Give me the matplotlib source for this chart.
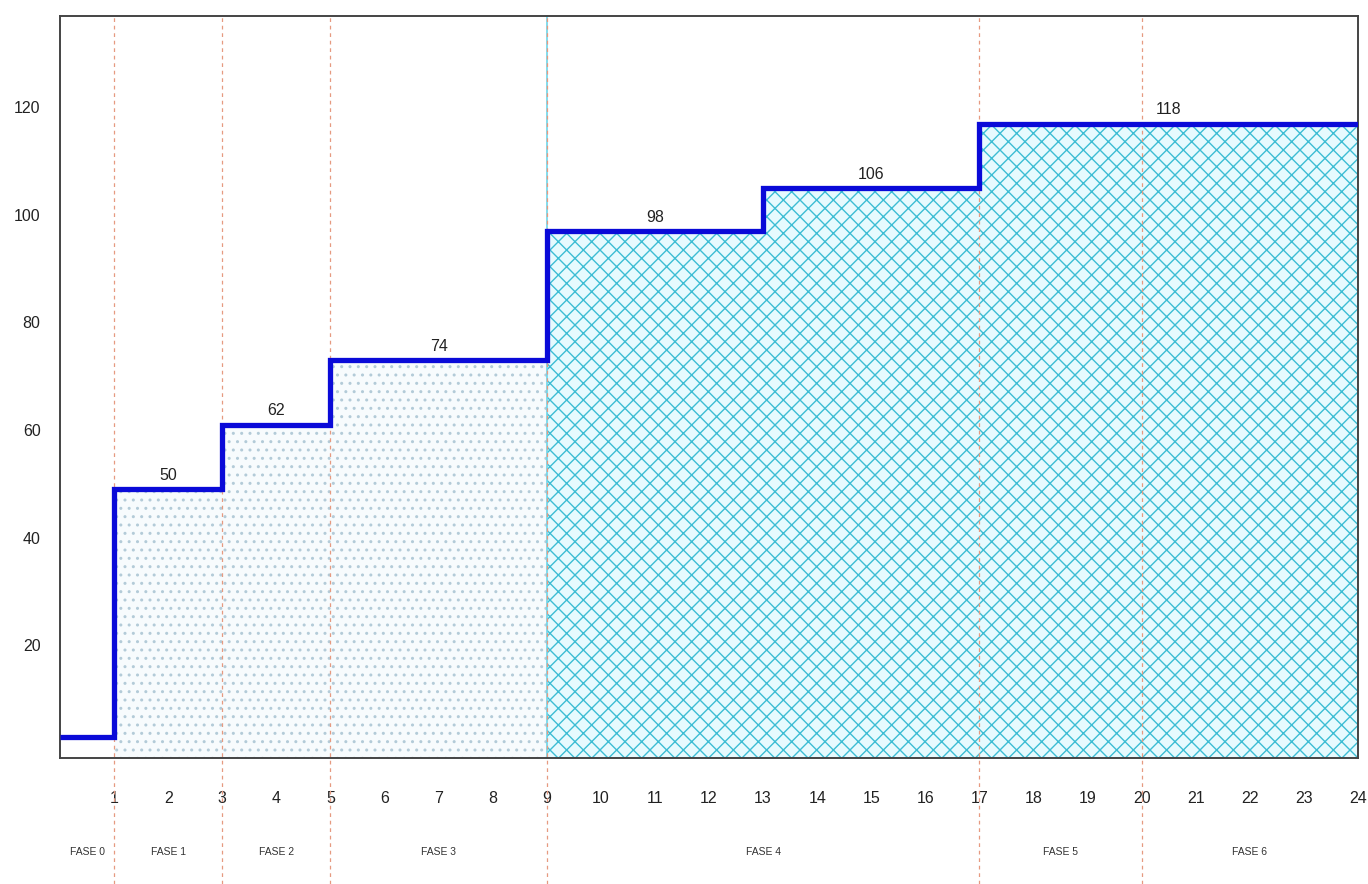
import matplotlib.pyplot as plt
import numpy as np

plt.rcParams["font.family"] = ["Liberation Sans", "DejaVu Sans"]

# phase boundaries (x) and step level for each phase
edges = [0, 1, 3, 5, 9, 13, 17, 24]
levels = [3, 49, 61, 73, 97, 105, 117]
level_labels = ["", "50", "62", "74", "98", "106", "118"]

phase_edges = [0, 1, 3, 5, 9, 17, 20, 24]
phase_names = ["FASE 0", "FASE 1", "FASE 2", "FASE 3", "FASE 4", "FASE 5", "FASE 6"]
divider_x = [1, 3, 5, 9, 17, 20]

x_ticks = list(range(1, 25))
y_ticks = [20, 40, 60, 80, 100, 120]


def segment(x0, x1):
    xs, ys = [], []
    for i in range(len(levels)):
        a, b = edges[i], edges[i + 1]
        if b <= x0 or a >= x1:
            continue
        xs += [max(a, x0), min(b, x1)]
        ys += [levels[i], levels[i]]
    return np.array(xs), np.array(ys)


def main() -> None:
    fig = plt.figure(figsize=(13.68, 8.84), dpi=100)
    ax = fig.add_axes([0.0439, 0.1425, 0.9488, 0.8394])
    ax.set_xlim(0, 24)
    ax.set_ylim(-1, 137)

    # stippled area (phases 1-3)
    xs, ys = segment(1, 9)
    ax.fill_between(xs, 0 * ys - 1, ys, facecolor="#f7fbfd", edgecolor="#b3cbd8",
                    hatch="..", linewidth=0, zorder=1)
    # cross-hatched area (phases 4-6)
    xs, ys = segment(9, 24)
    ax.fill_between(xs, 0 * ys - 1, ys, facecolor="#e6fafe", edgecolor="#3cbdd4",
                    hatch="xx", linewidth=0, zorder=1)

    ax.axvline(9, color="#6fd4e8", linewidth=1.2, zorder=2)
    for xv in divider_x:
        ax.axvline(xv, ymin=-0.17, ymax=1, color="#e69a80", linestyle=(0, (3, 3)),
                   linewidth=0.9, clip_on=False, zorder=2)

    ax.stairs(levels, edges, baseline=None, color="#0a0ad8", linewidth=3.8, zorder=3)

    for i, lab in enumerate(level_labels):
        if lab:
            xm = (edges[i] + edges[i + 1]) / 2
            ax.text(xm, levels[i] + 1.2, lab, ha="center", va="bottom",
                    fontsize=11.5, color="#222222", zorder=4)

    for i, name in enumerate(phase_names):
        xm = (phase_edges[i] + phase_edges[i + 1]) / 2
        ax.text(xm, -18.5, name, ha="center", va="center", fontsize=7.5,
                color="#333333", clip_on=False)

    ax.set_xticks(x_ticks)
    ax.set_yticks(y_ticks)
    ax.tick_params(axis="x", length=0, pad=24, labelsize=11.5, labelcolor="#222222")
    ax.tick_params(axis="y", length=0, pad=14, labelsize=11.5, labelcolor="#222222")
    for sp in ax.spines.values():
        sp.set_color("#444444")
        sp.set_linewidth(1.4)

    fig.savefig("out.png", dpi=100)
    plt.close(fig)


if __name__ == "__main__":
    main()
